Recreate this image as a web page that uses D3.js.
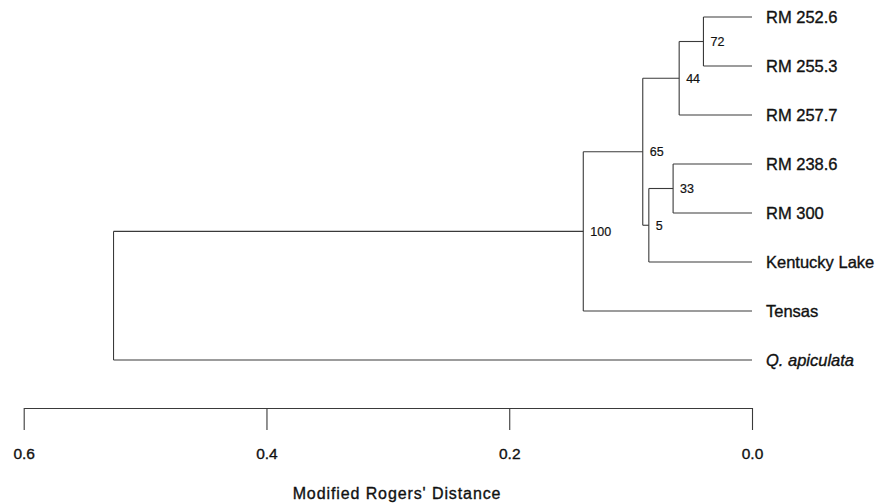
<!DOCTYPE html>
<html>
<head>
<meta charset="utf-8">
<script src="https://cdn.jsdelivr.net/npm/d3@7"></script>
<style>
  body { margin: 0; background: #fff; }
  svg text { font-family: "Liberation Sans", Arial, Helvetica, sans-serif; fill: #111; stroke: #111; stroke-width: 0.35px; }
</style>
</head>
<body>
<svg id="chart" width="880" height="503"></svg>
<script>
// leaves, top to bottom
var leaves = ["RM 252.6", "RM 255.3", "RM 257.7", "RM 238.6", "RM 300", "Kentucky Lake", "Tensas", "Q. apiculata"];

// internal nodes: id, children, height (Modified Rogers' distance), bootstrap
var nodeIds      = ["n72", "n44", "n33", "n5", "n65", "n100", "root"];
var nodeChildren = [
    ["RM 252.6", "RM 255.3"],
    ["n72", "RM 257.7"],
    ["RM 238.6", "RM 300"],
    ["n33", "Kentucky Lake"],
    ["n44", "n5"],
    ["n65", "Tensas"],
    ["n100", "Q. apiculata"]
];
var nodeHeights  = [0.040, 0.060, 0.065, 0.085, 0.090, 0.139, 0.526];
var nodeSupport  = ["72", "44", "33", "5", "65", "100", ""];

var axisTicks = [0.6, 0.4, 0.2, 0.0];
var axisTitle = "Modified Rogers' Distance";

var svg = d3.select("#chart");

var x = d3.scaleLinear().domain([0.6, 0]).range([23.7, 752]);
var y = d3.scalePoint().domain(leaves).range([17, 360]);

// positions of every node (leaves first, then internal nodes in order)
var pos = {};
leaves.forEach(function(l) {
    pos[l] = {x: x(0), y: y(l)};
});
nodeIds.forEach(function(id, i) {
    var ch = nodeChildren[i];
    pos[id] = {
        x: x(nodeHeights[i]),
        y: (pos[ch[0]].y + pos[ch[1]].y) / 2
    };
});

var lineStyle = function(sel) {
    sel.attr("fill", "none")
        .attr("stroke", "#3a3a3a")
        .attr("stroke-width", 1.1);
};

var links = svg.append("g").attr("class", "links");

nodeIds.forEach(function(id, i) {
    var p = pos[id];
    var ch = nodeChildren[i];
    // vertical bar
    links.append("path")
        .attr("d", "M" + p.x + "," + pos[ch[0]].y + "V" + pos[ch[1]].y)
        .call(lineStyle);
    // horizontal branches
    ch.forEach(function(c) {
        links.append("path")
            .attr("d", "M" + p.x + "," + pos[c].y + "H" + pos[c].x)
            .call(lineStyle);
    });
});

// leaf labels
svg.append("g").selectAll("text")
    .data(leaves)
    .enter().append("text")
    .attr("x", function(d) { return pos[d].x + 14; })
    .attr("y", function(d) { return pos[d].y; })
    .attr("dy", "0.36em")
    .attr("font-size", "16.5px")
    .attr("font-style", function(d) { return d === "Q. apiculata" ? "italic" : "normal"; })
    .text(function(d) { return d; });

// bootstrap labels
svg.append("g").selectAll("text")
    .data(nodeIds.filter(function(d, i) { return nodeSupport[i] !== ""; }))
    .enter().append("text")
    .attr("x", function(d) { return pos[d].x + 7; })
    .attr("y", function(d) { return pos[d].y; })
    .attr("dy", "0.36em")
    .attr("font-size", "12.5px")
    .style("stroke-width", "0.2px")
    .text(function(d) { return nodeSupport[nodeIds.indexOf(d)]; });

// distance axis
var axis = d3.axisBottom(x)
    .tickValues(axisTicks)
    .tickFormat(d3.format(".1f"))
    .tickSizeInner(22)
    .tickSizeOuter(0)
    .tickPadding(18);

var gAxis = svg.append("g")
    .attr("transform", "translate(0,408)")
    .call(axis);

gAxis.selectAll("path, line").attr("stroke", "#3a3a3a").attr("stroke-width", 1.1);
gAxis.selectAll("text")
    .attr("font-size", "15.5px")
    .attr("font-family", "\"Liberation Sans\", Arial, Helvetica, sans-serif")
    .attr("fill", "#111");

svg.append("text")
    .attr("x", 397)
    .attr("y", 499)
    .attr("text-anchor", "middle")
    .attr("font-size", "16px")
    .attr("letter-spacing", "0.9px")
    .text(axisTitle);
</script>
</body>
</html>
